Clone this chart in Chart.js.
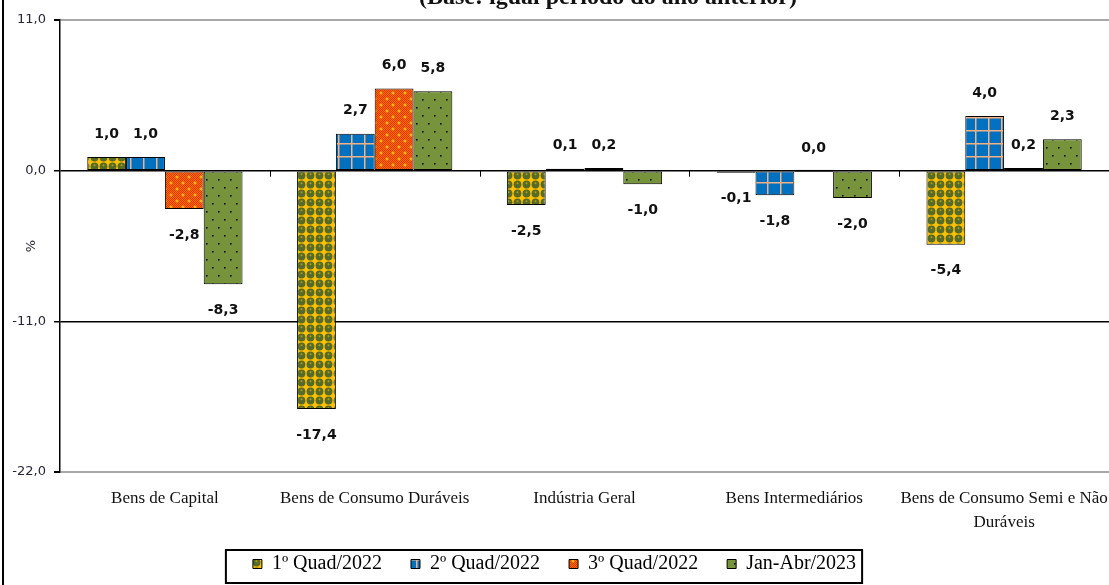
<!DOCTYPE html>
<html>
<head>
<meta charset="utf-8">
<script src="https://cdn.jsdelivr.net/npm/chart.js@4.4.0/dist/chart.umd.min.js"></script>
<style>
  html, body { margin: 0; padding: 0; background: #fff; }
  #wrap { width: 1109px; height: 585px; }
</style>
</head>
<body>
<div id="wrap"><canvas id="grafico" width="1109" height="585"></canvas></div>
<script>
// dados (variação %, base: igual período do ano anterior)
const categorias = ['Bens de Capital', 'Bens de Consumo Duráveis', 'Indústria Geral', 'Bens Intermediários', ['Bens de Consumo Semi e Não', 'Duráveis']];
const nomesSeries = ['1º Quad/2022', '2º Quad/2022', '3º Quad/2022', 'Jan-Abr/2023'];
const quad1_2022 = [1.0, -17.4, -2.5, -0.1, -5.4];
const quad2_2022 = [1.0, 2.7, 0.1, -1.8, 4.0];
const quad3_2022 = [-2.8, 6.0, 0.2, 0.0, 0.2];
const janAbr_2023 = [-8.3, 5.8, -1.0, -2.0, 2.3];
const yTicks = [-22, -11, 0, 11];
const subtitulo = '(Base: igual período do ano anterior)';

const fmt = v => v.toFixed(1).replace('.', ',');

// padrões de preenchimento (tipo Excel)
function tile(w, h, draw) {
    const c = document.createElement('canvas');
    c.width = w; c.height = h;
    const g = c.getContext('2d');
    draw(g);
    return document.getElementById('grafico').getContext('2d').createPattern(c, 'repeat');
}

const padraoAmarelo = tile(9, 9, g => {
    g.fillStyle = '#FFC000';
    g.fillRect(0, 0, 9, 9);
    g.fillStyle = '#556B2A';
    g.beginPath(); g.arc(4.5, 4.5, 3.9, 0, Math.PI * 2); g.fill();
    g.fillStyle = '#B89A10';
    g.beginPath(); g.arc(4.5, 3.2, 1.0, 0, Math.PI * 2); g.fill();
});

const padraoAzul = tile(13, 13, g => {
    g.fillStyle = '#0070C0';
    g.fillRect(0, 0, 13, 13);
    g.fillStyle = '#F4B183';
    g.fillRect(0, 0, 13, 1.5);
    g.fillRect(0, 0, 1.5, 13);
});

const padraoLaranja = tile(12, 12, g => {
    g.fillStyle = '#FF6A00';
    g.fillRect(0, 0, 12, 12);
    g.fillStyle = '#D83A00';
    for (let x = 0; x < 12; x++) {
        for (let y = 0; y < 12; y++) {
            if ((x + y) % 2 === 0) g.fillRect(x, y, 1, 1);
        }
    }
    g.fillStyle = '#FFD21F';
    [[3, 3], [9, 9]].forEach(([x, y]) => {
        g.fillRect(x - 1.5, y - 0.5, 3, 1);
        g.fillRect(x - 0.5, y - 1.5, 1, 3);
    });
});

const padraoVerde = tile(12, 16, g => {
    g.fillStyle = '#77933C';
    g.fillRect(0, 0, 12, 16);
    g.fillStyle = '#111';
    g.fillRect(2, 3, 1.6, 1.6);
    g.fillRect(8, 11, 1.6, 1.6);
});

const padroes = [padraoAmarelo, padraoAzul, padraoLaranja, padraoVerde];
const valores = [quad1_2022, quad2_2022, quad3_2022, janAbr_2023];

const extras = {
    id: 'extras',
    afterDatasetsDraw(chart) {
        const ctx = chart.ctx;
        const x = chart.scales.x;
        const y0 = chart.scales.y.getPixelForValue(0);
        ctx.save();
        // marcas entre categorias sobre o eixo zero
        ctx.strokeStyle = '#000';
        ctx.lineWidth = 1;
        for (let i = 0; i < categorias.length - 1; i++) {
            const px = Math.round((x.getPixelForValue(i) + x.getPixelForValue(i + 1)) / 2) + 0.5;
            ctx.beginPath(); ctx.moveTo(px, y0); ctx.lineTo(px, y0 + 6); ctx.stroke();
        }
        // rótulos de dados
        ctx.font = 'bold 14px "DejaVu Sans"';
        ctx.fillStyle = '#111';
        ctx.textAlign = 'center';
        ctx.textBaseline = 'middle';
        chart.data.datasets.forEach((ds, i) => {
            chart.getDatasetMeta(i).data.forEach((bar, j) => {
                const v = ds.data[j];
                const ly = v >= 0 ? bar.y - 23 : bar.y + 26;
                ctx.fillText(fmt(v), bar.x, ly);
            });
        });
        ctx.restore();
    },
    afterDraw(chart) {
        const ctx = chart.ctx;
        ctx.save();
        // título cortado no topo
        ctx.font = 'bold 24px "Liberation Serif"';
        ctx.fillStyle = '#111';
        ctx.textAlign = 'center';
        ctx.textBaseline = 'alphabetic';
        ctx.fillText(subtitulo, 608, 4);
        // borda esquerda
        ctx.fillStyle = '#000';
        ctx.fillRect(2, 0, 2, chart.height);
        // caixa da legenda
        const hb = chart.legend.legendHitBoxes;
        if (hb && hb.length) {
            const l = Math.min(...hb.map(b => b.left)) - 27;
            const r = Math.max(...hb.map(b => b.left + b.width)) + 6;
            ctx.strokeStyle = '#000';
            ctx.lineWidth = 2;
            ctx.strokeRect(l, 550, r - l, 33);
        }
        ctx.restore();
    }
};

new Chart(document.getElementById('grafico'), {
    type: 'bar',
    data: {
        labels: categorias,
        datasets: nomesSeries.map((nome, i) => ({
            label: nome,
            data: valores[i],
            backgroundColor: padroes[i],
            borderColor: '#000',
            borderWidth: 1,
            borderSkipped: false,
            minBarLength: 2,
            categoryPercentage: 0.74,
            barPercentage: 1.0
        }))
    },
    options: {
        responsive: false,
        animation: false,
        layout: { padding: { top: 20, right: 0, bottom: 1, left: 0 } },
        plugins: {
            tooltip: { enabled: false },
            legend: {
                position: 'bottom',
                labels: {
                    boxWidth: 9,
                    boxHeight: 9,
                    padding: 29,
                    color: '#000',
                    font: { family: '"Liberation Serif"', size: 20 }
                }
            }
        },
        scales: {
            x: {
                grid: { display: false, drawTicks: false },
                border: { display: false },
                ticks: {
                    color: '#111',
                    padding: 14,
                    maxRotation: 0,
                    minRotation: 0,
                    autoSkip: false,
                    font: { family: '"Liberation Serif"', size: 17, lineHeight: 1.45 }
                },
                afterFit: s => {
                    s.height = 53;
                    s.paddingLeft = 0;
                    s.paddingRight = 0;
                    s._computeLabelArea = () => null; // não cortar a 2ª linha do rótulo
                }
            },
            y: {
                min: Math.min(...yTicks),
                max: Math.max(...yTicks),
                ticks: {
                    stepSize: yTicks[1] - yTicks[0],
                    color: '#262636',
                    padding: 8,
                    font: { family: '"DejaVu Sans"', size: 13 },
                    callback: v => fmt(v)
                },
                grid: {
                    color: c => (c.tick && (c.tick.value === 0 || c.tick.value === -11)) ? '#000' : '#A8A8A8',
                    lineWidth: c => (c.tick && (c.tick.value === 0 || c.tick.value === -11)) ? 1.5 : 2,
                    tickColor: '#000',
                    tickLength: 6
                },
                border: { color: '#000', width: 1.5 },
                title: {
                    display: true,
                    text: '%',
                    color: '#262636',
                    font: { family: '"DejaVu Sans"', size: 13 },
                    padding: { top: 24, bottom: 0 }
                },
                afterFit: s => { s.width = 60; }
            }
        }
    },
    plugins: [extras]
});
</script>
</body>
</html>
